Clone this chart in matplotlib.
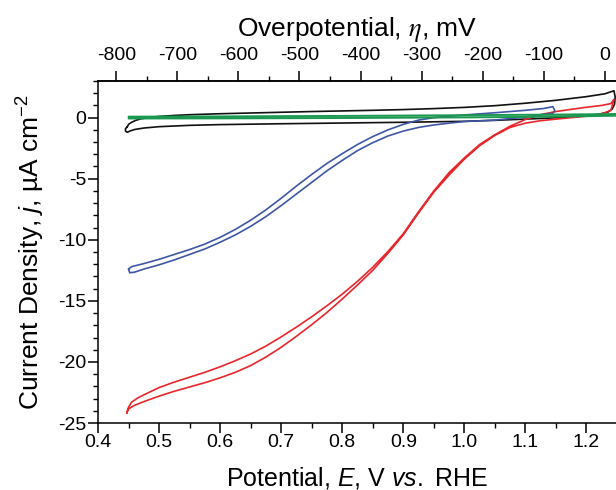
import matplotlib
matplotlib.use("Agg")
import matplotlib.pyplot as plt
from matplotlib.ticker import MultipleLocator, FormatStrFormatter

plt.rcParams['font.family'] = ['Liberation Sans', 'DejaVu Sans']
plt.rcParams['mathtext.fontset'] = 'custom'
plt.rcParams['mathtext.rm'] = 'Liberation Sans'
plt.rcParams['mathtext.it'] = 'Liberation Sans:italic'
plt.rcParams['mathtext.default'] = 'regular'
plt.rcParams['axes.unicode_minus'] = False

E0 = 1.23  # reversible potential (V vs RHE)

# ---- red CV loop ----
red_fwd_E = [0.447, 0.450, 0.455, 0.465, 0.475, 0.50, 0.525, 0.55, 0.575, 0.60, 0.625, 0.65,
             0.675, 0.70, 0.725, 0.75, 0.775, 0.80, 0.825, 0.85, 0.875, 0.90, 0.925, 0.95,
             0.975, 1.00, 1.025, 1.05, 1.075, 1.10, 1.125, 1.15, 1.175, 1.20, 1.225, 1.24, 1.245]
red_fwd_j = [-24.2, -23.7, -23.3, -22.95, -22.7, -22.1, -21.65, -21.25, -20.85, -20.4, -19.9, -19.35,
             -18.7, -17.95, -17.15, -16.3, -15.4, -14.45, -13.4, -12.25, -10.95, -9.5, -7.7, -6.0,
             -4.5, -3.3, -2.2, -1.4, -0.7, -0.15, 0.25, 0.5, 0.68, 0.85, 1.0, 1.15, 1.5]
red_rev_E = [1.245, 1.24, 1.225, 1.20, 1.175, 1.15, 1.125, 1.10, 1.075, 1.05, 1.025, 1.00,
             0.975, 0.95, 0.925, 0.90, 0.875, 0.85, 0.825, 0.80, 0.775, 0.75, 0.725, 0.70,
             0.675, 0.65, 0.625, 0.60, 0.575, 0.55, 0.525, 0.50, 0.475, 0.46, 0.45, 0.447]
red_rev_j = [1.5, 0.6, 0.3, 0.12, 0.0, -0.12, -0.25, -0.45, -0.8, -1.45, -2.3, -3.4,
             -4.7, -6.1, -7.8, -9.6, -11.1, -12.5, -13.7, -14.85, -15.95, -16.95, -17.9, -18.8,
             -19.6, -20.3, -20.85, -21.3, -21.7, -22.05, -22.4, -22.8, -23.25, -23.55, -23.85, -24.2]

# ---- blue CV loop ----
blue_fwd_E = [0.450, 0.455, 0.475, 0.50, 0.525, 0.55, 0.575, 0.60, 0.625, 0.65, 0.675, 0.70,
              0.725, 0.75, 0.775, 0.80, 0.825, 0.85, 0.875, 0.90, 0.925, 0.95, 0.975, 1.0,
              1.05, 1.10, 1.13, 1.145]
blue_fwd_j = [-12.4, -12.2, -11.95, -11.6, -11.2, -10.8, -10.35, -9.8, -9.15, -8.4, -7.55, -6.6,
              -5.6, -4.65, -3.75, -2.95, -2.2, -1.55, -1.0, -0.55, -0.2, 0.0, 0.12, 0.22,
              0.4, 0.6, 0.75, 0.9]
blue_rev_E = [1.145, 1.148, 1.145, 1.12, 1.10, 1.05, 1.0, 0.975, 0.95, 0.925, 0.90, 0.875,
              0.85, 0.825, 0.80, 0.775, 0.75, 0.725, 0.70, 0.675, 0.65, 0.625, 0.60, 0.575,
              0.55, 0.525, 0.50, 0.475, 0.46, 0.452, 0.45]
blue_rev_j = [0.9, 0.6, 0.35, 0.2, 0.05, -0.2, -0.32, -0.45, -0.6, -0.8, -1.1, -1.5,
              -2.05, -2.7, -3.5, -4.35, -5.3, -6.25, -7.2, -8.1, -8.9, -9.6, -10.2, -10.75,
              -11.2, -11.65, -12.05, -12.4, -12.65, -12.7, -12.4]

# ---- black CV loop ----
black_fwd_E = [0.448, 0.45, 0.455, 0.462, 0.47, 0.485, 0.50, 0.525, 0.55, 0.60, 0.65, 0.70,
               0.75, 0.80, 0.85, 0.90, 0.95, 1.0, 1.05, 1.10, 1.15, 1.20, 1.23, 1.245]
black_fwd_j = [-0.75, -0.55, -0.38, -0.22, -0.1, 0.02, 0.1, 0.18, 0.24, 0.32, 0.38, 0.44,
               0.5, 0.55, 0.6, 0.66, 0.74, 0.84, 0.98, 1.18, 1.42, 1.72, 1.95, 2.2]
black_rev_E = [1.245, 1.247, 1.246, 1.242, 1.235, 1.22, 1.20, 1.17, 1.13, 1.10, 1.05, 1.0,
               0.9, 0.8, 0.7, 0.6, 0.55, 0.50, 0.475, 0.46, 0.452, 0.448, 0.445, 0.445, 0.448]
black_rev_j = [2.2, 1.7, 1.1, 0.7, 0.45, 0.28, 0.15, 0.04, -0.06, -0.12, -0.22, -0.3,
               -0.38, -0.44, -0.5, -0.57, -0.63, -0.74, -0.85, -0.97, -1.1, -1.2, -1.1, -0.9, -0.75]

# ---- green CV loop ----
green_fwd_E = [0.45, 0.6, 0.8, 1.0, 1.15, 1.25]
green_fwd_j = [0.08, 0.1, 0.14, 0.2, 0.25, 0.3]
green_rev_E = [1.25, 1.15, 1.0, 0.8, 0.6, 0.45]
green_rev_j = [0.16, 0.08, 0.02, -0.03, -0.06, -0.07]

x_ticks = [0.4, 0.5, 0.6, 0.7, 0.8, 0.9, 1.0, 1.1, 1.2]
y_ticks = [-25, -20, -15, -10, -5, 0]
eta_ticks = [-800, -700, -600, -500, -400, -300, -200, -100, 0]

fig = plt.figure(figsize=(6.16, 4.90), dpi=100)
ax = fig.add_axes([98/616, 67/490, 519/616, 342/490])

def loop(E1, j1, E2, j2, color, lw, z):
    ax.plot(list(E1) + list(E2), list(j1) + list(j2), color=color, lw=lw, zorder=z,
            solid_joinstyle='round', solid_capstyle='round')

loop(black_fwd_E, black_fwd_j, black_rev_E, black_rev_j, '#111111', 1.2, 2)
loop(red_fwd_E, red_fwd_j, red_rev_E, red_rev_j, '#e8262b', 1.2, 3)
loop(blue_fwd_E, blue_fwd_j, blue_rev_E, blue_rev_j, '#3f56a6', 1.2, 4)
loop(green_fwd_E, green_fwd_j, green_rev_E, green_rev_j, '#1a9850', 1.4, 5)

ax.set_xlim(0.4, 1.25)
ax.set_ylim(-25, 3)
ax.set_xticks(x_ticks)
ax.xaxis.set_major_formatter(FormatStrFormatter('%.1f'))
ax.xaxis.set_minor_locator(MultipleLocator(0.05))
ax.set_yticks(y_ticks)
ax.yaxis.set_minor_locator(MultipleLocator(1))

for sp in ax.spines.values():
    sp.set_linewidth(1.1)
ax.spines['right'].set_visible(False)

ax.tick_params(which='major', direction='out', length=7, width=1.1, labelsize=14)
ax.tick_params(axis='x', which='major', pad=1)
ax.tick_params(axis='y', which='major', pad=1.5)
ax.tick_params(which='minor', direction='out', length=3.5, width=1.0)
ax.tick_params(top=False, right=False, which='both')

ax.set_xlabel(r'Potential, $\mathit{E}$, V $\mathit{vs.}$ RHE', fontsize=18, labelpad=10)
ax.set_ylabel(r'Current Density, $\mathit{j}$, µA cm$^{-2}$', fontsize=19, labelpad=8)

sec = ax.secondary_xaxis('top', functions=(lambda E: (E - E0) * 1000, lambda eta: eta / 1000 + E0))
sec.set_xticks(eta_ticks)
sec.xaxis.set_minor_locator(MultipleLocator(50))
sec.tick_params(which='major', direction='out', length=7, width=1.1, labelsize=14, pad=5)
sec.tick_params(which='minor', direction='out', length=3.5, width=1.0)
sec.spines['top'].set_linewidth(1.1)
sec.set_xlabel(r'Overpotential, $\mathit{\eta}$, mV', fontsize=19, labelpad=8.5, math_fontfamily='stix')

fig.savefig('out.png', dpi=100)
